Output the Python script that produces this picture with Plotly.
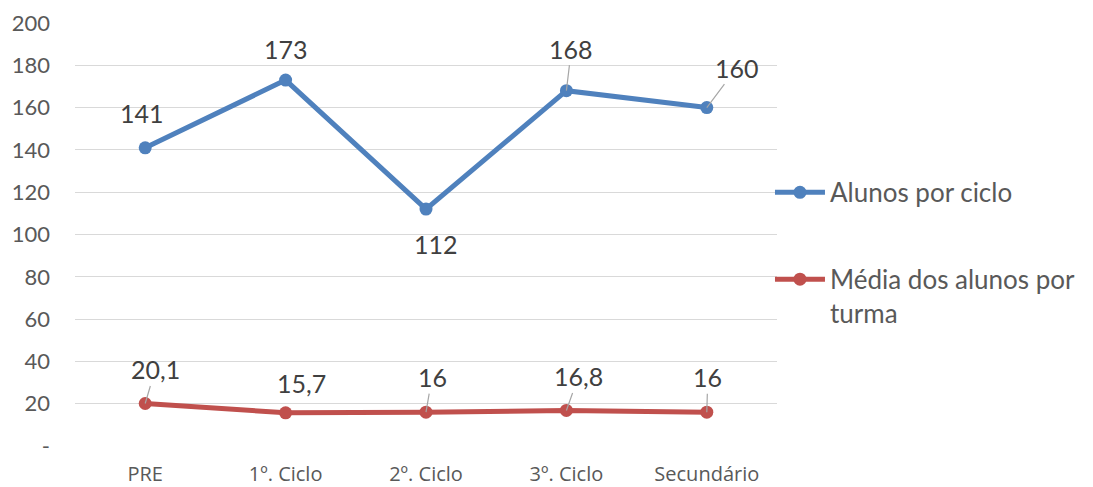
import plotly.graph_objects as go

categories = ["PRE", "1º. Ciclo", "2º. Ciclo", "3º. Ciclo", "Secundário"]
alunos = [141, 173, 112, 168, 160]
media = [20.1, 15.7, 16, 16.8, 16]
alunos_labels = ["141", "173", "112", "168", "160"]
media_labels = ["20,1", "15,7", "16", "16,8", "16"]
y_ticks = [0, 20, 40, 60, 80, 100, 120, 140, 160, 180, 200]
y_tick_text = ["-", "20", "40", "60", "80", "100", "120", "140", "160", "180", "200"]

BLUE = "#4F81BD"
RED = "#C0504D"
TXT = "#595959"
FONT = "Lato"

fig = go.Figure()
fig.add_trace(go.Scatter(
    x=categories, y=alunos, mode="lines+markers", name="Alunos por ciclo",
    legendgroup="a",
    line=dict(color=BLUE, width=5), marker=dict(color=BLUE, size=13),
))
fig.add_trace(go.Scatter(
    x=categories, y=media, mode="lines+markers", name="Média dos alunos por<br>turma",
    legendgroup="b",
    line=dict(color=RED, width=5), marker=dict(color=RED, size=13),
))

# label offsets (pixels): (dx, dy, leader)
alunos_off = [(-3, -35, False), (0, -31, False), (10, 35, False), (5, -42, True), (30, -40, True)]
media_off = [(10, -34, True), (16, -30, False), (6, -35, True), (12, -34, True), (1, -35, True)]

anns = []
for vals, labs, offs in ((alunos, alunos_labels, alunos_off), (media, media_labels, media_off)):
    for c, v, t, (dx, dy, lead) in zip(categories, vals, labs, offs):
        if lead:
            anns.append(dict(x=c, y=v, xref="x", yref="y", text=t, showarrow=True,
                             ax=dx, ay=dy, arrowhead=0, arrowwidth=1.2, arrowcolor="#A6A6A6",
                             standoff=0, font=dict(family=FONT, size=25, color="#404040")))
        else:
            anns.append(dict(x=c, y=v, xref="x", yref="y", text=t, showarrow=False,
                             xshift=dx, yshift=-dy, font=dict(family=FONT, size=25, color="#404040")))

fig.update_layout(
    width=1093, height=487,
    margin=dict(l=75, r=316, t=23, b=41),
    paper_bgcolor="white", plot_bgcolor="white",
    font=dict(family=FONT, color=TXT, size=21),
    annotations=anns,
    showlegend=True,
    legend=dict(x=0.99, xanchor="left", y=0.655, yanchor="top",
                font=dict(family=FONT, size=26, color=TXT),
                itemwidth=50, tracegroupgap=50, valign="top",
                bgcolor="rgba(0,0,0,0)"),
)
fig.update_xaxes(range=[-0.5, 4.5], showgrid=False, showline=False, zeroline=False, ticks="",
                 automargin=False,
                 tickfont=dict(family="Open Sans", size=20, color=TXT), ticklabelstandoff=14)
fig.update_yaxes(range=[0, 200], tickvals=y_ticks, ticktext=y_tick_text, automargin=False,
                 showgrid=True, gridcolor="#D9D9D9", gridwidth=1.3, zeroline=False,
                 showline=False, ticks="", tickfont=dict(family=FONT, size=22, color=TXT),
                 ticklabelstandoff=24)

fig.write_html("out.html")
